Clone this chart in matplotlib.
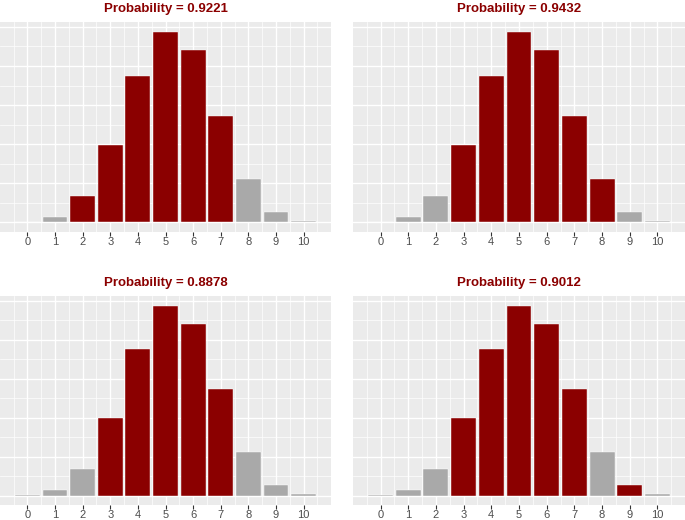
import matplotlib
matplotlib.use("Agg")
import matplotlib.pyplot as plt
import numpy as np

# number of successes and the probability of each
successes = list(range(11))
probs = [0.0006, 0.0070, 0.0343, 0.0991, 0.1878, 0.2441, 0.2204, 0.1364, 0.0554, 0.0133, 0.0014]

# which bars are highlighted in each panel, and the panel titles
highlight_tl = [2, 3, 4, 5, 6, 7]
highlight_tr = [3, 4, 5, 6, 7, 8]
highlight_bl = [3, 4, 5, 6, 7]
highlight_br = [3, 4, 5, 6, 7, 9]
titles = ["Probability = 0.9221", "Probability = 0.9432",
          "Probability = 0.8878", "Probability = 0.9012"]

RED = "#8B0000"
GREY = "#A9A9A9"
BG = "#EBEBEB"

plt.rcParams["font.family"] = ["Liberation Sans", "DejaVu Sans"]

fig = plt.figure(figsize=(6.85, 5.2), dpi=100)

W, H = 685, 520
# panel boxes in pixels: left, top, right, bottom
boxes = [(0, 22, 331, 232), (353, 22, 685, 232),
         (0, 296, 331, 505), (353, 296, 685, 505)]
highlights = [highlight_tl, highlight_tr, highlight_bl, highlight_br]

ymax = max(probs)
pad = 0.05 * ymax

for (l, t, r, b), hl, title in zip(boxes, highlights, titles):
    ax = fig.add_axes([l / W, (H - b) / H, (r - l) / W, (b - t) / H])
    ax.set_facecolor(BG)
    for s in ax.spines.values():
        s.set_visible(False)

    colors = [RED if k in hl else GREY for k in successes]
    ax.bar(successes, probs, width=0.9, color=colors,
           edgecolor="white", linewidth=0.3, zorder=3)

    ax.set_xlim(-0.995, 10.995)
    ax.set_ylim(-pad, ymax + pad)

    ax.set_xticks(successes)
    ax.set_xticks(np.arange(-0.5, 11, 1.0), minor=True)
    ax.set_yticks(np.arange(0, 0.26, 0.05))
    ax.set_yticks(np.arange(0.025, 0.26, 0.05), minor=True)
    ax.grid(which="major", color="white", linewidth=1.0, zorder=0)
    ax.grid(which="minor", color="white", linewidth=0.5, zorder=0)

    ax.tick_params(axis="x", which="major", length=2.6, width=0.8,
                   color="#333333", labelsize=8, labelcolor="#4D4D4D", pad=1.2)
    ax.tick_params(axis="x", which="minor", length=0)
    ax.tick_params(axis="y", which="both", length=0, labelleft=False)

    ax.set_title(title, color=RED, fontweight="bold", fontsize=9.5, pad=7)

fig.savefig("out.png", dpi=100)
